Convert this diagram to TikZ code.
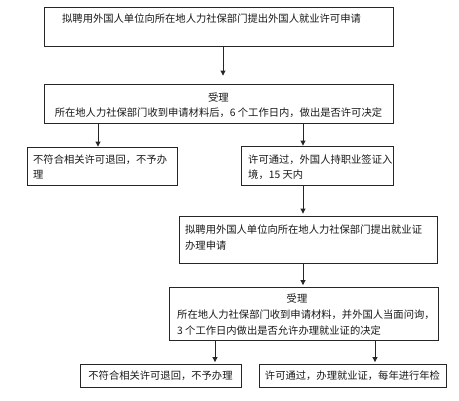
\documentclass[tikz,border=0pt]{standalone}
\usepackage{fontspec}
\setmainfont{Noto Sans CJK SC}
\usetikzlibrary{arrows.meta,calc}
\begin{document}
\begin{tikzpicture}[x=1pt,y=-1pt,
 box/.style={draw=black!85,line width=0.9pt,inner sep=0pt},
 txt/.style={font=\fontsize{10.3}{15.5}\selectfont,inner sep=0pt,text=black!90},
 arr/.style={draw=black!85,line width=0.9pt,-{Triangle[length=5pt,width=5pt]}}]
\useasboundingbox[fill=white] (0,0) rectangle (459,400);
% boxes
\node[box,minimum width=349pt,minimum height=39pt] (b1) at (218.5,26.5) {};
\node[box,minimum width=349pt,minimum height=39pt] (b2) at (218.5,103.5) {};
\node[box,minimum width=150pt,minimum height=38pt] (b3) at (102,166) {};
\node[box,minimum width=152pt,minimum height=39pt] (b4) at (317,165.5) {};
\node[box,minimum width=258pt,minimum height=47pt] (b5) at (308,239.5) {};
\node[box,minimum width=269pt,minimum height=53pt] (b6) at (303.5,313.5) {};
\node[box,minimum width=161pt,minimum height=23pt] (b7) at (160.5,375.5) {};
\node[box,minimum width=187pt,minimum height=23pt] (b8) at (352.5,375.5) {};
% texts
\node[txt,anchor=west] (t1) at (62,19) {拟聘用外国人单位向所在地人力社保部门提出外国人就业许可申请};
\node[txt,align=center] (t2) at (218.5,105) {受理\\所在地人力社保部门收到申请材料后，6 个工作日内，做出是否许可决定};
\node[txt,anchor=west,align=left] (t3) at (33,167) {不符合相关许可退回，不予办\\理};
\node[txt,anchor=west,align=left] (t4) at (248,167) {许可通过，外国人持职业签证入\\境，15 天内};
\node[txt,anchor=west,align=left] (t5) at (185,237.5) {拟聘用外国人单位向所在地人力社保部门提出就业证\\办理申请};
\node[txt] (t6a) at (297,299) {受理};
\node[txt,anchor=west,align=left] (t6b) at (177,322.5) {所在地人力社保部门收到申请材料，并外国人当面问询，\\3 个工作日内做出是否允许办理就业证的决定};
\node[txt] (t7) at (160.5,376) {不符合相关许可退回，不予办理};
\node[txt] (t8) at (352.5,376) {许可通过，办理就业证，每年进行年检};
% connector x positions
\coordinate (xa) at (223,0);
\coordinate (xl) at (98,0);
\coordinate (xr) at (303,0);
\coordinate (xl2) at (215,0);
\coordinate (xr2) at (375,0);
% arrows
\draw[arr,shorten >=8pt] (b1.south -| xa) -- (b2.north -| xa);
\draw[arr] (b2.south -| xl) -- (b3.north -| xl);
\draw[arr] (b2.south -| xr) -- (b4.north -| xr);
\draw[arr,shorten >=2pt] (b4.south -| xr) -- (b5.north -| xr);
\draw[arr,shorten >=1.5pt] (b5.south -| xr) -- (b6.north -| xr);
\draw[arr,shorten >=1.5pt] (b6.south -| xl2) -- (b7.north -| xl2);
\draw[arr,shorten >=1.5pt] (b6.south -| xr2) -- (b8.north -| xr2);
\end{tikzpicture}
\end{document}
